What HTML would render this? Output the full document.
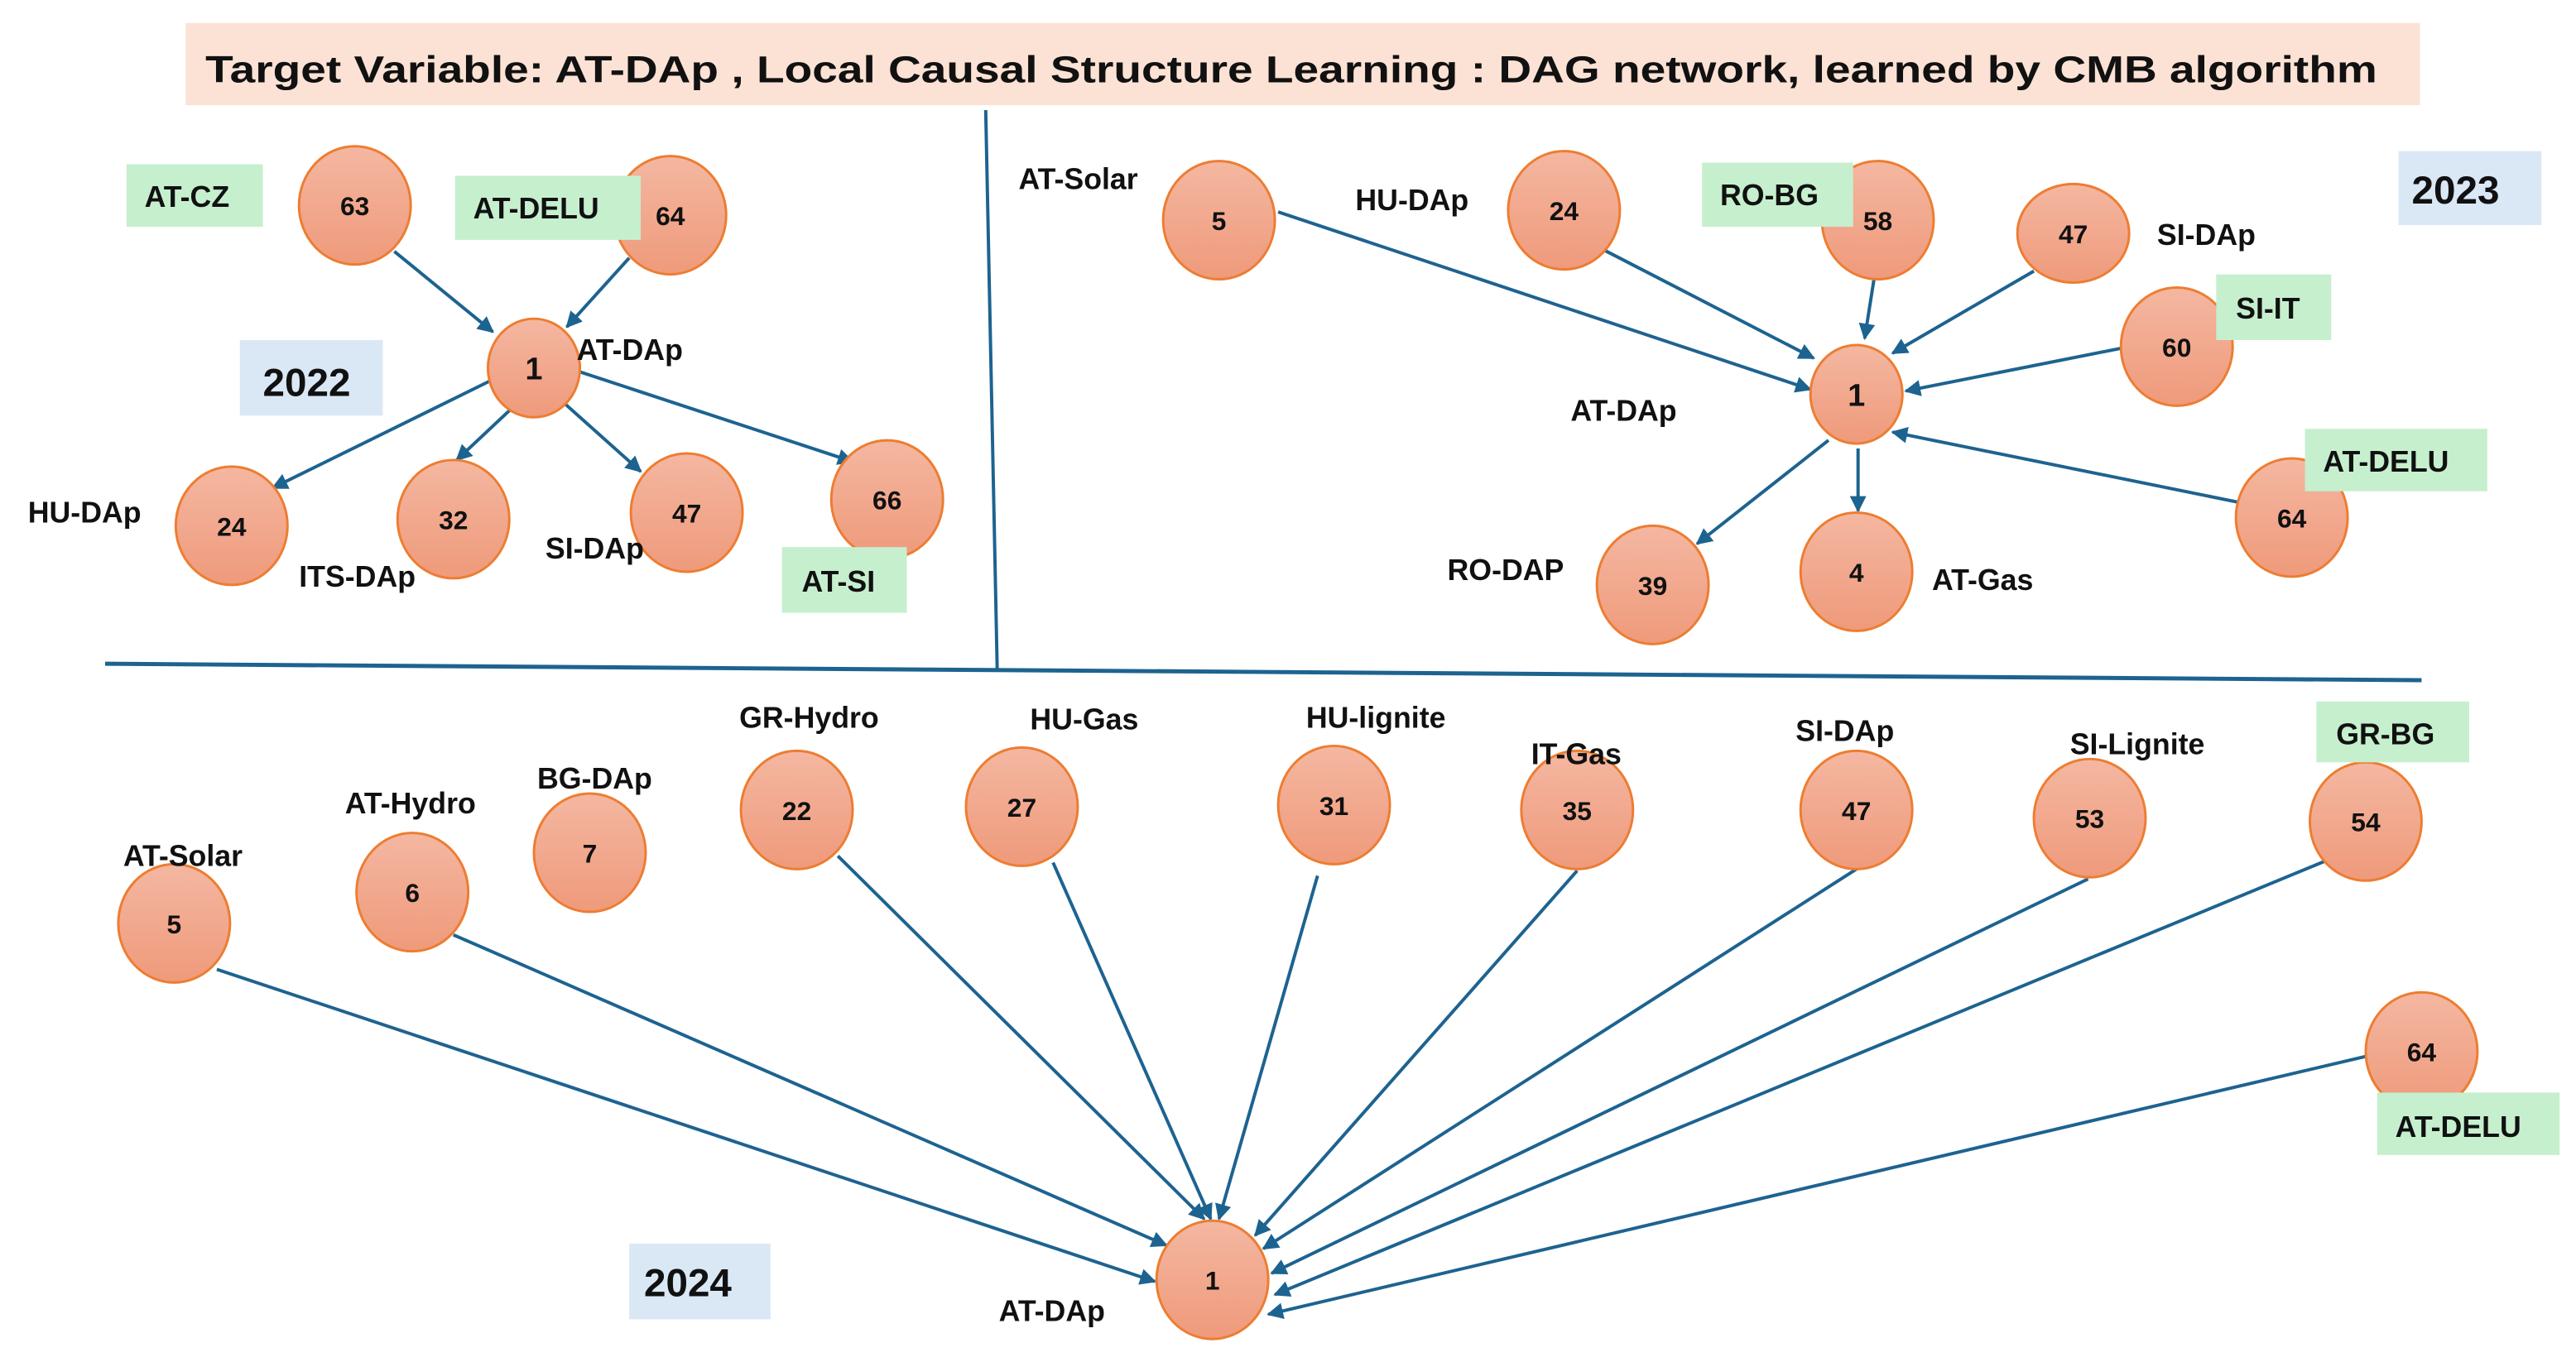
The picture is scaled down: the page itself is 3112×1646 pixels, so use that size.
<!DOCTYPE html>
<html><head><meta charset="utf-8">
<style>
html,body{margin:0;padding:0;background:#fff;}
svg{display:block;}
text{font-family:"Liberation Sans",Arial,sans-serif;font-weight:bold;fill:#111;}
</style></head>
<body>
<svg width="3112" height="1646" viewBox="0 0 1568 829" preserveAspectRatio="none" xmlns="http://www.w3.org/2000/svg">
<defs>
<linearGradient id="g" x1="0" y1="0" x2="0" y2="1">
<stop offset="0" stop-color="#f4b7a1"/><stop offset="1" stop-color="#ef9a7b"/>
</linearGradient>
<marker id="a" viewBox="0 0 10 10" refX="9" refY="5" markerWidth="5" markerHeight="5" orient="auto-start-reverse" markerUnits="strokeWidth">
<path d="M0,0 L10,5 L0,10 z" fill="#1d6390"/>
</marker>
</defs>

<!-- title -->
<rect x="113" y="14" width="1360" height="50" fill="#fbe2d5"/>
<text x="125" y="50" font-size="23" textLength="1322" lengthAdjust="spacingAndGlyphs">Target Variable: AT-DAp , Local  Causal Structure Learning : DAG network, learned by CMB algorithm</text>

<!-- dividers -->
<line x1="600" y1="67" x2="607" y2="408" stroke="#1d6390" stroke-width="2"/>
<line x1="64" y1="404" x2="1474" y2="414" stroke="#1d6390" stroke-width="2.5"/>

<g stroke="#1d6390" stroke-width="2" marker-end="url(#a)" fill="none">
<!-- 2022 -->
<line x1="240" y1="153" x2="300" y2="202"/>
<line x1="383" y1="157" x2="345" y2="199"/>
<line x1="298" y1="232" x2="166" y2="297"/>
<line x1="311" y1="249" x2="278" y2="280"/>
<line x1="343" y1="245" x2="390" y2="287"/>
<line x1="352" y1="226" x2="519" y2="281"/>
<!-- 2023 -->
<line x1="778" y1="129" x2="1102" y2="237"/>
<line x1="976" y1="152" x2="1104" y2="218"/>
<line x1="1141" y1="168" x2="1135" y2="206"/>
<line x1="1238" y1="165" x2="1152" y2="215"/>
<line x1="1291" y1="212" x2="1160" y2="238"/>
<line x1="1364" y1="306" x2="1152" y2="263"/>
<line x1="1113" y1="268" x2="1033" y2="331"/>
<line x1="1131" y1="273" x2="1131" y2="311"/>
<!-- 2024 -->
<line x1="132" y1="590" x2="703" y2="780"/>
<line x1="276" y1="569" x2="710" y2="758"/>
<line x1="510" y1="521" x2="733" y2="742"/>
<line x1="641" y1="525" x2="737" y2="742"/>
<line x1="802" y1="533" x2="742" y2="742"/>
<line x1="960" y1="530" x2="764" y2="752"/>
<line x1="1130" y1="529" x2="769" y2="760"/>
<line x1="1271" y1="535" x2="774" y2="775"/>
<line x1="1418" y1="523" x2="776" y2="788"/>
<line x1="1440" y1="643" x2="772" y2="800"/>
</g>

<!-- nodes -->
<g stroke="#ed7d31" stroke-width="1.5" fill="url(#g)">
<ellipse cx="216" cy="125" rx="34" ry="36"/>
<ellipse cx="408" cy="131" rx="34" ry="36"/>
<ellipse cx="325" cy="224" rx="28" ry="30"/>
<ellipse cx="141" cy="320" rx="34" ry="36"/>
<ellipse cx="276" cy="316" rx="34" ry="36"/>
<ellipse cx="418" cy="312" rx="34" ry="36"/>
<ellipse cx="540" cy="304" rx="34" ry="36"/>

<ellipse cx="742" cy="134" rx="34" ry="36"/>
<ellipse cx="952" cy="128" rx="34" ry="36"/>
<ellipse cx="1143" cy="134" rx="34" ry="36"/>
<ellipse cx="1262" cy="142" rx="34" ry="30"/>
<ellipse cx="1325" cy="211" rx="34" ry="36"/>
<ellipse cx="1130" cy="240" rx="28" ry="30"/>
<ellipse cx="1006" cy="356" rx="34" ry="36"/>
<ellipse cx="1130" cy="348" rx="34" ry="36"/>
<ellipse cx="1395" cy="315" rx="34" ry="36"/>

<ellipse cx="106" cy="562" rx="34" ry="36"/>
<ellipse cx="251" cy="543" rx="34" ry="36"/>
<ellipse cx="359" cy="519" rx="34" ry="36"/>
<ellipse cx="485" cy="493" rx="34" ry="36"/>
<ellipse cx="622" cy="491" rx="34" ry="36"/>
<ellipse cx="812" cy="490" rx="34" ry="36"/>
<ellipse cx="960" cy="493" rx="34" ry="36"/>
<ellipse cx="1130" cy="493" rx="34" ry="36"/>
<ellipse cx="1272" cy="498" rx="34" ry="36"/>
<ellipse cx="1440" cy="500" rx="34" ry="36"/>
<ellipse cx="1474" cy="640" rx="34" ry="36"/>
<ellipse cx="738" cy="779" rx="34" ry="36"/>
</g>

<!-- node numbers -->
<g font-size="16" text-anchor="middle">
<text x="216" y="131">63</text>
<text x="408" y="137">64</text>
<text x="325" y="231" font-size="19">1</text>
<text x="141" y="326">24</text>
<text x="276" y="322">32</text>
<text x="418" y="318">47</text>
<text x="540" y="310">66</text>

<text x="742" y="140">5</text>
<text x="952" y="134">24</text>
<text x="1143" y="140">58</text>
<text x="1262" y="148">47</text>
<text x="1325" y="217">60</text>
<text x="1130" y="247" font-size="19">1</text>
<text x="1006" y="362">39</text>
<text x="1130" y="354">4</text>
<text x="1395" y="321">64</text>

<text x="106" y="568">5</text>
<text x="251" y="549">6</text>
<text x="359" y="525">7</text>
<text x="485" y="499">22</text>
<text x="622" y="497">27</text>
<text x="812" y="496">31</text>
<text x="960" y="499">35</text>
<text x="1130" y="499">47</text>
<text x="1272" y="504">53</text>
<text x="1440" y="506">54</text>
<text x="1474" y="646">64</text>
<text x="738" y="785">1</text>
</g>

<!-- boxes -->
<rect x="77" y="100" width="83" height="38" fill="#c6efce"/>
<rect x="277" y="107" width="113" height="39" fill="#c6efce"/>
<rect x="146" y="207" width="87" height="46" fill="#dae8f6"/>
<rect x="476" y="333" width="76" height="40" fill="#c6efce"/>
<rect x="1036" y="99" width="92" height="39" fill="#c6efce"/>
<rect x="1349" y="167" width="70" height="40" fill="#c6efce"/>
<rect x="1403" y="261" width="111" height="38" fill="#c6efce"/>
<rect x="1460" y="92" width="87" height="45" fill="#dae8f6"/>
<rect x="1410" y="427" width="93" height="37" fill="#c6efce"/>
<rect x="1447" y="665" width="111" height="38" fill="#c6efce"/>
<rect x="383" y="757" width="86" height="46" fill="#dae8f6"/>

<!-- labels -->
<g font-size="18">
<text x="88" y="126">AT-CZ</text>
<text x="288" y="133">AT-DELU</text>
<text x="160" y="241" font-size="24">2022</text>
<text x="351" y="219">AT-DAp</text>
<text x="17" y="318">HU-DAp</text>
<text x="182" y="357">ITS-DAp</text>
<text x="332" y="340">SI-DAp</text>
<text x="488" y="360">AT-SI</text>

<text x="620" y="115">AT-Solar</text>
<text x="825" y="128">HU-DAp</text>
<text x="1047" y="125">RO-BG</text>
<text x="1313" y="149">SI-DAp</text>
<text x="1361" y="194">SI-IT</text>
<text x="956" y="256">AT-DAp</text>
<text x="881" y="353">RO-DAP</text>
<text x="1176" y="359">AT-Gas</text>
<text x="1414" y="287">AT-DELU</text>
<text x="1468" y="124" font-size="24">2023</text>

<text x="75" y="527">AT-Solar</text>
<text x="210" y="495">AT-Hydro</text>
<text x="327" y="480">BG-DAp</text>
<text x="450" y="443">GR-Hydro</text>
<text x="627" y="444">HU-Gas</text>
<text x="795" y="443">HU-lignite</text>
<text x="932" y="465">IT-Gas</text>
<text x="1093" y="451">SI-DAp</text>
<text x="1260" y="459">SI-Lignite</text>
<text x="1422" y="453">GR-BG</text>
<text x="1458" y="692">AT-DELU</text>
<text x="608" y="804">AT-DAp</text>
<text x="392" y="789" font-size="24">2024</text>
</g>
</svg>
</body></html>
